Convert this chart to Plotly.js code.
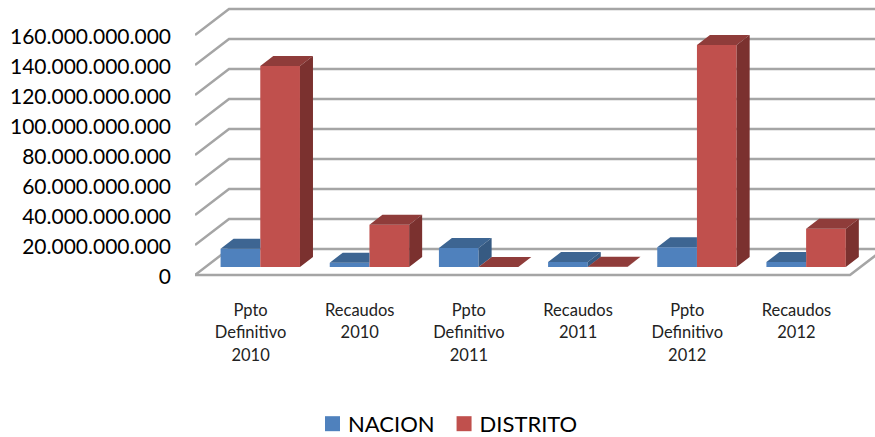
<!DOCTYPE html>
<html>
<head>
<meta charset="utf-8">
<script src="https://cdn.plot.ly/plotly-3.0.1.min.js"></script>
<style>html,body{margin:0;padding:0;background:#fff}#chart{width:875px;height:437px}</style>
</head>
<body>
<div id="chart"></div>
<script>
var categories = ['Ppto<br>Definitivo<br>2010','Recaudos<br>2010','Ppto<br>Definitivo<br>2011','Recaudos<br>2011','Ppto<br>Definitivo<br>2012','Recaudos<br>2012'];
var nacion   = [12200000000, 2900000000, 12700000000, 3300000000, 13100000000, 3300000000];
var distrito = [134000000000, 28200000000, 0, 200000000, 148000000000, 25500000000];
var yTicks = [0,20000000000,40000000000,60000000000,80000000000,100000000000,120000000000,140000000000,160000000000];

var FONT = 'Lato, Carlito, Calibri, sans-serif';
var WIDTH = 875, HEIGHT = 437, LEFT = 195, BOTTOM_PX = 285, ZERO_PX = 275;
var PX_PER_UNIT_X = 655 / 6, PX_PER_VALUE = 30 / 20000000000;
var ux = function (px) { return px / PX_PER_UNIT_X; };
var uy = function (px) { return px / PX_PER_VALUE; };

// oblique depth of the whole chart box and of a single bar
var wallDX = ux(34), wallDY = uy(26);
var barDX = ux(13), barDY = uy(10);
// bars stand a little way back from the front edge of the floor
var barShiftX = ux(10.7), barBase = uy(8), barW = ux(39.7);

var xs = categories.map(function (_, i) { return i; });
var barX = xs.map(function (x) { return x + barShiftX; });

function poly(list) {
  var X = [], Y = [];
  list.forEach(function (p) {
    p.forEach(function (q) { X.push(q[0]); Y.push(q[1]); });
    X.push(p[0][0], null); Y.push(p[0][1], null);
  });
  return {x: X, y: Y};
}
function faceTrace(p, color) {
  return {type: 'scatter', mode: 'lines', x: p.x, y: p.y, fill: 'toself', fillcolor: color,
          line: {width: 0, color: color}, showlegend: false, hoverinfo: 'skip', connectgaps: false};
}
function barTrace(name, values, color, offset) {
  return {type: 'bar', name: name, x: barX, y: values, base: barBase, width: barW, offset: offset,
          marker: {color: color, line: {width: 0}}};
}

// blue faces, trimmed where the taller red bar stands in front of them
var blueTop = [], blueSide = [], redTop = [], redSide = [];
barX.forEach(function (cx, i) {
  var b = barBase + nacion[i], r = barBase + distrito[i];
  var covered = distrito[i] > nacion[i];
  if (covered) {
    blueTop.push([[cx - barW, b], [cx, b], [cx, b + barDY], [cx - barW + barDX, b + barDY]]);
  } else {
    blueTop.push([[cx - barW, b], [cx, b], [cx + barDX, b + barDY], [cx - barW + barDX, b + barDY]]);
    blueSide.push([[cx, b], [cx + barDX, b + barDY], [cx + barDX, barBase + barDY], [cx, barBase]]);
  }
  redTop.push([[cx, r], [cx + barW, r], [cx + barW + barDX, r + barDY], [cx + barDX, r + barDY]]);
  if (distrito[i] > 0) {
    redSide.push([[cx + barW, r], [cx + barW + barDX, r + barDY], [cx + barW + barDX, barBase + barDY], [cx + barW, barBase]]);
  }
});

var traces = [
  barTrace('NACION', nacion, '#4F81BD', -barW),
  barTrace('DISTRITO', distrito, '#C0504D', 0),
  faceTrace(poly(blueTop), '#3D6592'),
  faceTrace(poly(blueSide), '#365A82'),
  faceTrace(poly(redTop), '#8F3C3A'),
  faceTrace(poly(redSide), '#7B312F')
];

var xMin = -0.5, xMax = xMin + (WIDTH - LEFT) / PX_PER_UNIT_X;
var xFrontEnd = categories.length - 0.5;
var GRID = {color: '#A5A5A5', width: 2.5};
var shapes = [];
yTicks.forEach(function (t) {
  shapes.push({type: 'path', layer: 'below', xref: 'x', yref: 'y', line: GRID,
    path: 'M' + xMin + ',' + t + 'L' + (xMin + wallDX) + ',' + (t + wallDY) + 'L' + (xFrontEnd + wallDX) + ',' + (t + wallDY)});
});
shapes.push({type: 'path', layer: 'below', xref: 'x', yref: 'y', line: GRID,
  path: 'M' + xMin + ',0L' + xFrontEnd + ',0L' + (xFrontEnd + wallDX) + ',' + wallDY});

var tickText = categories.map(function (c) {
  return c.split('<br>').map(function (s) { return '<span style="font-size:16.5px">' + s + '</span>'; }).join('<br>');
});

var layout = {
  width: WIDTH, height: HEIGHT,
  margin: {l: LEFT, r: 0, t: 0, b: HEIGHT - BOTTOM_PX, pad: 0},
  paper_bgcolor: '#fff', plot_bgcolor: 'rgba(0,0,0,0)',
  separators: ',.',
  barmode: 'overlay',
  font: {family: FONT, color: '#000'},
  xaxis: {type: 'linear', range: [xMin, xMax], tickmode: 'array', tickvals: xs, ticktext: tickText,
          tickangle: 0, tickfont: {family: FONT, size: 17.5, color: '#222'}, showgrid: false, zeroline: false,
          showline: false, ticks: '', ticklabelstandoff: 12, ticklabelshift: 1, fixedrange: true},
  yaxis: {range: [-uy(BOTTOM_PX - ZERO_PX), uy(ZERO_PX)], tickmode: 'array', tickvals: yTicks, tickformat: ',d',
          tickfont: {family: FONT, size: 21, color: '#000'}, showgrid: false, zeroline: false,
          showline: false, ticks: '', ticklabelstandoff: 23, ticklabelshift: 2, fixedrange: true},
  shapes: shapes,
  showlegend: true,
  legend: {orientation: 'h', xref: 'container', yref: 'container', x: 0.352, y: 0.03, xanchor: 'left', yanchor: 'middle',
           font: {family: FONT, size: 22, color: '#000'}, bgcolor: 'rgba(0,0,0,0)', traceorder: 'normal',
           itemclick: false, itemdoubleclick: false}
};

Plotly.newPlot('chart', traces, layout, {displayModeBar: false, staticPlot: true}).then(function () {
  document.querySelectorAll('.legend .legendbar path, .legend .legendpoints path').forEach(function (p) {
    p.setAttribute('d', 'M7.5,7.5H-7.5V-7.5H7.5Z');
    p.setAttribute('transform', 'translate(24.5,0)');
  });
});
</script>
</body>
</html>
